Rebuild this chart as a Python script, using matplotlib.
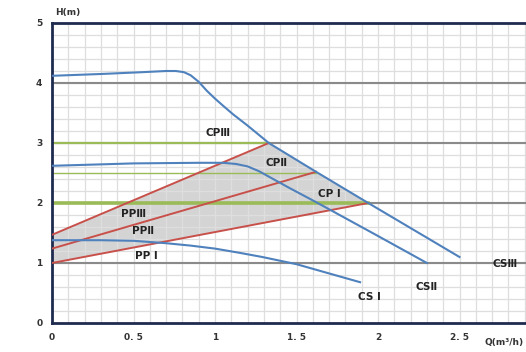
import matplotlib.pyplot as plt
import numpy as np

plt.rcParams['font.family'] = ['DejaVu Sans', 'Noto Sans CJK SC']

# pump curves (Q in m3/h, H in m)
cs3_q = [0, 0.3, 0.55, 0.7, 0.76, 0.81, 0.85, 0.9, 0.95, 1.0, 1.05, 1.11, 1.2, 1.33, 1.62, 1.94, 2.5]
cs3_h = [4.12, 4.15, 4.18, 4.2, 4.2, 4.18, 4.13, 4.02, 3.87, 3.74, 3.62, 3.48, 3.29, 3.0, 2.52, 2.0, 1.1]
cs2_q = [0, 0.5, 0.9, 1.05, 1.13, 1.2, 1.27, 1.35, 1.45, 1.63, 2.0, 2.3]
cs2_h = [2.62, 2.66, 2.67, 2.67, 2.65, 2.61, 2.53, 2.41, 2.26, 2.0, 1.45, 1.0]
cs1_q = [0, 0.3, 0.5, 0.7, 0.85, 1.0, 1.15, 1.29, 1.5, 1.89]
cs1_h = [1.38, 1.38, 1.37, 1.33, 1.29, 1.24, 1.17, 1.1, 0.98, 0.68]

# proportional pressure lines (start, end)
pp3_q, pp3_h = [0, 1.33], [1.47, 3.0]
pp2_q, pp2_h = [0, 1.62], [1.24, 2.52]
pp1_q, pp1_h = [0, 1.94], [1.0, 2.0]

# constant pressure lines: level and end flow
cp_h = [3.0, 2.5, 2.0]
cp_end = [1.33, 1.62, 1.94]
cp_lw = [1.6, 1.0, 2.6]

blue = '#4f81bd'
red = '#c8504a'
green = '#9bbb59'

fig = plt.figure(figsize=(5.26, 3.52), dpi=100)
ax = fig.add_axes([52/526, 29/352, 1 - 52/526, 300/352])
ax.set_xlim(0, 474/163)
ax.set_ylim(0, 5)

# grid
for x in np.arange(0.1, 2.95, 0.1):
    ax.axvline(x, color='#dedede', lw=0.9, zorder=1)
for y in np.arange(0.2, 5, 0.2):
    ax.axhline(y, color='#dedede', lw=0.9, zorder=1)
for y in [1, 2, 3, 4]:
    ax.axhline(y, color='#8a8a8a', lw=1.5, zorder=1.5)

# shaded working area
sel = [i for i, q in enumerate(cs3_q) if pp3_q[1] <= q <= pp1_q[1]]
poly_q = [pp1_q[0], pp1_q[1]] + [cs3_q[i] for i in sel[::-1]] + [pp3_q[0]]
poly_h = [pp1_h[0], pp1_h[1]] + [cs3_h[i] for i in sel[::-1]] + [pp3_h[0]]
ax.fill(poly_q, poly_h, color='#d4d4d4', zorder=0.5, lw=0)

for h, e, lw in zip(cp_h, cp_end, cp_lw):
    ax.plot([0, e], [h, h], color=green, lw=lw, zorder=2)

for q, h in [(pp3_q, pp3_h), (pp2_q, pp2_h), (pp1_q, pp1_h)]:
    ax.plot(q, h, color=red, lw=1.4, zorder=3)

for q, h in [(cs3_q, cs3_h), (cs2_q, cs2_h), (cs1_q, cs1_h)]:
    ax.plot(q, h, color=blue, lw=1.5, zorder=4, solid_joinstyle='round')

labels = [('CPⅢ', 1.02, 3.17), ('CPⅡ', 1.38, 2.67), ('CP Ⅰ', 1.7, 2.15),
          ('PPⅢ', 0.5, 1.82), ('PPⅡ', 0.56, 1.53), ('PP Ⅰ', 0.58, 1.11),
          ('CS Ⅰ', 1.95, 0.43), ('CSⅡ', 2.3, 0.6), ('CSⅢ', 2.78, 0.98)]
for t, x, y in labels:
    ax.text(x, y, t, fontsize=7.5, fontweight='bold', color='#222222',
            ha='center', va='center', zorder=5)

for s in ['left', 'bottom', 'top']:
    ax.spines[s].set_color('#1f2a4f')
    ax.spines[s].set_linewidth(2)
ax.spines['right'].set_visible(False)

ax.set_xticks([0, 0.5, 1, 1.5, 2, 2.5])
ax.set_xticklabels(['0', '0. 5', '1', '1. 5', '2', '2. 5'])
ax.set_yticks([0, 1, 2, 3, 4, 5])
ax.tick_params(length=0, labelsize=6.5, colors='#333333', pad=7)
for lab in ax.get_xticklabels() + ax.get_yticklabels():
    lab.set_fontweight('bold')

fig.text(55/526, 1 - 13/352, 'H(m)', fontsize=6.5, fontweight='bold',
         color='#333333', va='center')
fig.text(524/526, 1 - 343/352, 'Q(m³/h)', fontsize=6.5, fontweight='bold',
         color='#333333', va='center', ha='right')

fig.savefig('out.png', dpi=100)
